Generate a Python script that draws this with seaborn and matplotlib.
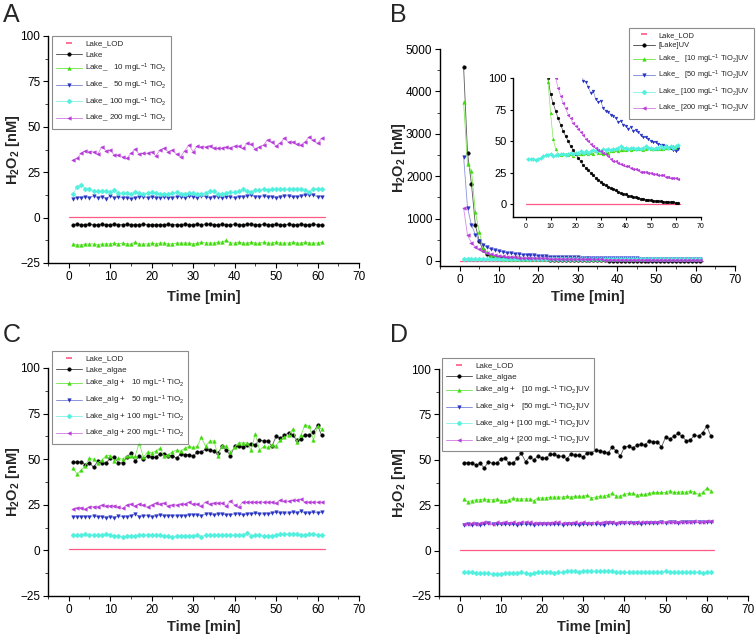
"""H2O2 in lake water with TiO2, dark / UV, with and without algae (4 panels)."""
import matplotlib
matplotlib.use("Agg")
import matplotlib.pyplot as plt
from matplotlib.lines import Line2D
from matplotlib.ticker import AutoMinorLocator, MultipleLocator
import seaborn as sns

sns.set_style("ticks")
plt.rcParams.update({
    "font.family": ["Liberation Sans", "DejaVu Sans"],
    "mathtext.fontset": "custom",
    "mathtext.rm": "Liberation Sans",
    "mathtext.it": "Liberation Sans:italic",
    "mathtext.bf": "Liberation Sans:bold",
    "mathtext.default": "regular",
})

TIME = list(range(1, 62))
LOD_TIME = [0, 61.8]
LOD = [0.5, 0.5]

# ---- panel A: lake water, dark
A_LAKE = [-3.8, -3.7, -3.8, -3.8, -3.7, -3.8, -3.8, -3.7, -3.8, -3.8, -3.7, -3.8, -3.8, -3.7, -3.8,
          -3.9, -3.8, -3.7, -3.8, -3.8, -3.9, -3.8, -3.8, -3.7, -3.8, -3.8, -3.8, -3.7, -3.8, -3.8,
          -3.7, -3.8, -3.6, -3.7, -3.8, -3.8, -3.7, -3.8, -3.8, -3.7, -3.8, -3.8, -3.7, -3.6, -3.8,
          -3.8, -3.7, -3.8, -3.8, -3.7, -3.8, -3.8, -3.7, -3.8, -3.8, -3.7, -3.8, -3.8, -3.7, -3.8, -3.8]
A_10 = [-14.5, -15, -15, -14.5, -14.5, -14.5, -15, -14.5, -14.5, -14.5, -14, -14.5, -14, -14.5, -14.5,
        -13.5, -14.5, -14.5, -14.5, -14, -14.5, -14, -14, -14.5, -14.5, -14, -14, -14, -14, -14.5,
        -14, -13.5, -14, -14, -14, -13.5, -13.5, -12.5, -14, -14, -13.5, -14, -14, -13.5, -14,
        -14, -13.5, -14, -14, -13.5, -14, -14, -14, -13.5, -14, -14, -13.5, -14, -14, -14, -13.5]
A_50 = [10.5, 11, 11, 11.5, 11, 12, 11, 11.5, 10.5, 12, 11, 11.5, 11, 11, 10.5,
        11, 11.5, 11.5, 11, 11.5, 11, 11, 11.5, 11, 11, 11.5, 11.5, 11, 12, 11.5,
        11, 12, 11.5, 11, 11.5, 11.5, 11, 11.5, 11.5, 11, 11.5, 11.5, 12, 12.5, 11.5,
        11.5, 12, 11.5, 11.5, 11, 11.5, 12, 12, 11.5, 11.5, 12, 12.5, 12.5, 12.5, 11.5, 11.5]
A_100 = [13, 17, 18, 16, 16, 14.5, 14.5, 14.5, 14.5, 14, 15, 13.5, 13.5, 13.5, 13,
         14, 13.5, 13, 13.5, 14, 13.5, 13, 13, 13, 13.5, 14, 13, 13, 13.5, 13.5,
         13, 13, 13.5, 14.5, 14.5, 13, 13, 13.5, 14, 14, 14.5, 15.5, 14.5, 14, 15,
         15, 16, 15, 15.5, 15.5, 16, 15.5, 15.5, 16, 16, 15.5, 15, 14, 16, 16, 16]
A_200 = [31.7, 32.6, 35.4, 36.9, 36.3, 36.3, 35, 39, 36.9, 37.2, 34.5, 34.5, 33.6, 32.6, 35.4,
         37.6, 35, 35.4, 35.4, 36.3, 34, 37.2, 38.1, 36.3, 37.2, 35, 33.6, 36.9, 40, 36.3,
         39.4, 39, 39, 39.6, 38.5, 38.1, 38.1, 39, 38.5, 39.4, 39.4, 38.1, 40.9, 40.5, 37.6,
         39, 40, 43, 41.7, 39.4, 41.3, 43.6, 41.7, 41.7, 40.5, 40, 41.7, 44.5, 42.6, 40.9, 43.6]

# ---- panel B: lake water, UV
B_LAKE = [4580, 2550, 1810, 840, 460, 250, 160, 120, 100, 87, 80, 74, 68, 63, 58,
          54, 50, 46, 43, 40, 37, 34, 31, 29, 27, 25, 23, 21, 19.5, 18,
          16.5, 15, 14, 13, 12, 11, 10, 9, 8.5, 8, 7, 6.5, 6, 5.5, 5,
          4.5, 4, 3.8, 3.5, 3.2, 3, 2.8, 2.5, 2.3, 2.1, 2, 1.8, 1.6, 1.5, 1.3, 1.2]
B_10 = [3750, 2280, 2120, 1150, 680, 300, 200, 130, 97, 72, 52, 44, 40, 39, 40,
        40, 39, 40, 38, 41, 40, 40, 40, 41, 40, 41, 40, 42, 41, 41,
        40, 41, 41, 42, 42, 43, 42, 43, 43, 43, 44, 43, 44, 44, 44,
        44, 43, 44, 45, 44, 44, 44, 44, 44, 44, 45, 45, 45, 46, 45, 46]
B_50 = [2460, 1250, 850, 620, 480, 380, 320, 280, 250, 230, 210, 195, 180, 170, 160,
        150, 145, 138, 130, 122, 115, 106, 98, 97, 93, 88, 90, 83, 81, 82,
        76, 74, 73, 71, 70, 68, 65, 66, 63, 62, 60, 61, 58, 59, 57,
        55, 53, 53, 52, 50, 49, 49, 48, 47, 47, 46, 45, 45, 43, 42, 44]
B_100 = [36, 36, 36, 35, 36, 37, 38, 39, 39, 40, 38, 39, 39, 40, 40,
         39, 40, 41, 40, 41, 41, 42, 41, 42, 41, 42, 43, 42, 43, 42,
         44, 43, 44, 43, 44, 44, 45, 46, 45, 45, 44, 45, 45, 44, 45,
         44, 45, 46, 45, 45, 44, 45, 45, 46, 45, 46, 45, 46, 45, 46, 47]
B_200 = [1250, 600, 430, 330, 270, 230, 190, 160, 140, 125, 110, 100, 92, 86, 80,
         76, 71, 68, 64, 62, 60, 57, 55, 52, 50, 48, 46, 45, 43, 42,
         41, 40, 38, 36, 34, 34, 33, 32, 31, 30, 30, 29, 28, 28, 27,
         26, 26, 26, 25, 25, 24, 24, 23, 23, 23, 22, 22, 21, 21, 21, 20]

# ---- panel C: lake water + algae, dark
ALGAE = [48.5, 48.5, 48.5, 47, 48, 45.5, 49, 48, 48, 50.5, 51, 48, 48, 51, 53.5,
         49, 51.5, 50, 52, 51, 51, 53, 53, 52, 52, 50.5, 53, 52.5, 52.5, 51.5,
         54, 54, 55.5, 55, 54.5, 53.5, 57, 55, 52, 57, 57.5, 56.5, 58, 58.5, 58,
         60.5, 60, 60, 57, 62.5, 61.5, 63, 64.5, 63, 60.5, 61, 63.5, 63, 65, 68.5, 63]
C_10 = [45, 42, 44, 46.5, 50.5, 50, 48, 49.5, 52, 52, 49, 50.5, 50, 51.5, 52,
        51.5, 59, 51, 54, 53.5, 54.5, 56, 51.5, 52.5, 54, 55, 54.5, 56, 57, 56.5,
        57, 62, 57, 60, 60, 52, 57.5, 57, 54, 56.5, 59, 59, 59, 55, 64,
        55, 57, 56.5, 58, 57.5, 60.5, 62, 63, 66.5, 59.5, 63, 69, 68, 60.5, 68, 66.5]
C_50 = [18.5, 18.5, 18.5, 18.5, 18.5, 19, 18.5, 18.5, 18, 18.5, 18, 19, 18.5, 18.5, 19,
        20, 18.5, 19, 19, 18.5, 19, 19.5, 19, 19, 19, 19, 19, 19, 19.5, 19.5,
        19.5, 19, 20, 20, 19.5, 20, 20, 19.5, 19.5, 20, 20, 19.5, 20, 20, 20.5,
        20, 20, 20, 20.5, 21, 20.5, 20.5, 20.5, 21, 20.5, 21.5, 20.5, 20.5, 21, 20.5, 21]
C_100 = [8.5, 8.5, 8.5, 9, 8.5, 8.5, 8.5, 8.5, 9, 8.5, 8, 8, 7.5, 8, 8,
         8, 8.5, 8.5, 8.5, 8.5, 8.5, 8.5, 8, 8, 7.5, 8, 8, 8, 8, 8,
         8.5, 7.5, 8.5, 8.5, 8.5, 8.5, 8.5, 8.5, 8.5, 8.5, 8.5, 8.5, 9.5, 8, 8.5,
         8.5, 8, 8, 8, 8.5, 9, 9, 9, 9, 9, 8.5, 8.5, 9, 9, 8.5, 8.5]
C_200 = [22.5, 23.5, 23.5, 22.5, 24, 24, 24, 25, 24.5, 24.5, 24.5, 24, 23, 25, 25.5,
         24.5, 25.5, 25, 24, 25, 26, 25.5, 26, 24.5, 25, 25, 25.5, 25.5, 26.5, 25.5,
         25.5, 24.5, 26.5, 25.5, 26, 26, 26, 24.5, 27, 25, 24, 26.5, 26.5, 26.5, 26.5,
         26.5, 26.5, 26.5, 26.5, 26, 27.5, 27, 27, 27.5, 27.5, 28, 26.5, 26.5, 26.5, 26.5, 26.5]

# ---- panel D: lake water + algae, UV
D_10 = [28.5, 27, 27.5, 28, 28, 28.5, 28, 28, 28.5, 27.5, 27.5, 28, 29, 28.5, 28.5,
        28.5, 28.5, 27.5, 29, 29, 29, 29.5, 29.5, 29.5, 29.5, 30, 29.5, 30, 30, 30,
        30.5, 29, 29.5, 30, 30, 30.5, 31.5, 30, 30, 31, 31.5, 31.5, 30.5, 31, 31,
        31.5, 32, 32, 32, 32, 33, 32, 32, 32.5, 32, 33, 32, 31, 32, 34.5, 33]
D_50 = [14, 14.5, 14, 14.5, 14, 14.5, 15, 14.5, 14.5, 14.5, 14.5, 14.5, 14.5, 14, 14.5,
        14.5, 14.5, 14, 14.5, 14.5, 14.5, 14.5, 14.5, 14.5, 14, 14.5, 14.5, 14.5, 14, 14.5,
        14.5, 14.5, 14.5, 14.5, 14, 15, 15, 14.5, 15, 15, 15, 15, 15, 14.5, 15,
        15, 15, 15, 15.5, 15, 15.5, 15.5, 15, 15.5, 15.5, 15.5, 15.5, 15.5, 15.5, 15.5, 15.5]
D_100 = [-12, -12, -12, -12.5, -12.5, -12.5, -12.5, -13, -13, -13, -12.5, -12.5, -12.5, -12.5, -12,
         -12.5, -13, -12.5, -12, -12, -12, -12, -12.5, -12, -12, -11.5, -11.5, -11.5, -12, -11,
         -11.5, -11.5, -11.5, -11.5, -11.5, -11, -11.5, -12, -12, -12, -12, -12, -12, -12, -12,
         -12, -12, -12, -12, -11.5, -12, -12, -12, -12, -12, -12, -12, -12, -12.5, -12, -12]
D_200 = [14.5, 14.5, 15, 14.5, 15, 15.5, 15, 14.5, 15.5, 15, 16, 15, 15.5, 15, 15.5,
         16, 15.5, 15, 15, 15, 15, 15, 15.5, 15.5, 15, 15, 15, 15.5, 15, 15.5,
         15, 15, 15.5, 15, 16, 15.5, 15.5, 15, 15.5, 15.5, 15.5, 15, 15.5, 15.5, 16,
         15.5, 15.5, 15.5, 16, 16, 16, 16, 15.5, 16, 15.5, 16, 16.5, 16, 16, 16.5, 16.5]

TIO2 = "mgL$^{-1}$ TiO$_2$"
LABELS_A = ["Lake_LOD", "Lake", f"Lake_   10 {TIO2}", f"Lake_   50 {TIO2}",
            f"Lake_ 100 {TIO2}", f"Lake_ 200 {TIO2}"]
LABELS_B = ["Lake_LOD", "[Lake]UV", f"Lake_   [10 {TIO2}]UV", f"Lake_   [50 {TIO2}]UV",
            f"Lake_ [100 {TIO2}]UV", f"Lake_ [200 {TIO2}]UV"]
LABELS_C = ["Lake_LOD", "Lake_algae", f"Lake_alg +   10 {TIO2}", f"Lake_alg +   50 {TIO2}",
            f"Lake_alg + 100 {TIO2}", f"Lake_alg + 200 {TIO2}"]
LABELS_D = ["Lake_LOD", "Lake_algae", f"Lake_alg +   [10 {TIO2}]UV", f"Lake_alg +   [50 {TIO2}]UV",
            f"Lake_alg + [100 {TIO2}]UV", f"Lake_alg + [200 {TIO2}]UV"]

LOD_COLOR = "#ff5a86"
STYLES = [
    {"marker": "o", "mark": "#000000", "line": "#5a5a5a"},
    {"marker": "^", "mark": "#3fdc0c", "line": "#7fe858"},
    {"marker": "v", "mark": "#2632c4", "line": "#8a92dc"},
    {"marker": "D", "mark": "#4ff0de", "line": "#8ff4ea"},
    {"marker": "<", "mark": "#b63ad8", "line": "#d88be8"},
]

W, H = 756, 639
fig = plt.figure(figsize=(W / 100, H / 100), dpi=100)


def px_axes(left, right, top, bottom):
    return fig.add_axes([left / W, 1 - bottom / H, (right - left) / W, (bottom - top) / H])


def draw(ax, series, ms=2.6, lw=0.6):
    sns.lineplot(x=LOD_TIME, y=LOD, ax=ax, color=LOD_COLOR, linewidth=0.9, legend=False)
    for y, st in zip(series, STYLES):
        sns.lineplot(x=TIME, y=y, ax=ax, color=st["line"], linewidth=lw,
                     marker=st["marker"], markersize=ms, markerfacecolor=st["mark"],
                     markeredgecolor=st["mark"], markeredgewidth=0.3, legend=False)


def style_axes(ax, ylim, ystep, fs=8.5, tick_len=3.5):
    ax.set_xlim(-5, 70)
    ax.set_ylim(*ylim)
    ax.xaxis.set_major_locator(MultipleLocator(10))
    ax.yaxis.set_major_locator(MultipleLocator(ystep))
    ax.xaxis.set_minor_locator(AutoMinorLocator(2))
    ax.yaxis.set_minor_locator(AutoMinorLocator(2))
    for side in ("top", "right"):
        ax.spines[side].set_visible(False)
    for side in ("left", "bottom"):
        ax.spines[side].set_linewidth(1.0)
        ax.spines[side].set_color("black")
    ax.tick_params(which="major", direction="out", length=tick_len, width=0.8,
                   labelsize=fs, colors="black", pad=2)
    ax.tick_params(which="minor", direction="out", length=tick_len * 0.55, width=0.6)
    ax.set_xlabel("")
    ax.set_ylabel("")


def labels(ax, ylab_x, xlab_y):
    ax.set_xlabel("Time [min]", fontsize=10.5, fontweight="bold")
    ax.set_ylabel("H$_2$O$_2$ [nM]", fontsize=10.5, fontweight="bold")
    ax.xaxis.set_label_coords(0.5, xlab_y)
    ax.yaxis.set_label_coords(ylab_x, 0.5)


def legend(texts, x, y, loc="upper left", fs=5.8, hl=3.2):
    handles = [Line2D([], [], color=LOD_COLOR, marker="_", linestyle="none",
                      markersize=4, markeredgewidth=1.2)]
    for st in STYLES:
        handles.append(Line2D([], [], color=st["line"], linewidth=0.7, marker=st["marker"],
                              markersize=2.6, markerfacecolor=st["mark"],
                              markeredgecolor=st["mark"], markeredgewidth=0.3))
    leg = fig.legend(handles, texts, loc=loc, bbox_to_anchor=(x / W, 1 - y / H),
                     bbox_transform=fig.transFigure, fontsize=fs, frameon=True,
                     fancybox=False, handlelength=hl, handletextpad=0.4,
                     labelspacing=0.42, borderpad=0.5, borderaxespad=0)
    leg.get_frame().set_edgecolor("#6f6f6f")
    leg.get_frame().set_linewidth(0.8)


# A
axA = px_axes(48, 359, 36, 263)
draw(axA, [A_LAKE, A_10, A_50, A_100, A_200])
style_axes(axA, (-25, 100), 25)
labels(axA, -0.084, -0.119)
legend(LABELS_A, 52, 36)

# B
axB = px_axes(440, 735, 49, 266)
draw(axB, [B_LAKE, B_10, B_50, B_100, B_200])
style_axes(axB, (-120, 5000), 1000)
labels(axB, -0.108, -0.11)

axI = px_axes(513, 701, 78, 217)
axI.set_facecolor("none")
draw(axI, [B_LAKE, B_10, B_50, B_100, B_200], ms=2.0, lw=0.5)
style_axes(axI, (-10, 100), 25, fs=6.5, tick_len=2.5)
axI.xaxis.set_minor_locator(AutoMinorLocator(1))
axI.yaxis.set_minor_locator(AutoMinorLocator(1))
axI.tick_params(labelsize=5, which="major")
axI.tick_params(axis="y", labelsize=8)
legend(LABELS_B, 754, 28, loc="upper right", fs=5.4, hl=3.0)

# C
axC = px_axes(48, 359, 368, 596)
draw(axC, [ALGAE, C_10, C_50, C_100, C_200])
style_axes(axC, (-25, 100), 25)
labels(axC, -0.084, -0.105)
legend(LABELS_C, 52, 351)

# D
axD = px_axes(439, 748, 369, 596)
draw(axD, [ALGAE, D_10, D_50, D_100, D_200])
style_axes(axD, (-25, 100), 25)
labels(axD, -0.10, -0.105)
legend(LABELS_D, 442, 358)

for letter, (x, y) in {"A": (3, 3), "B": (390, 3), "C": (3, 323), "D": (390, 323)}.items():
    fig.text(x / W, 1 - y / H, letter, fontsize=18, va="top", ha="left")

fig.savefig("out.png", dpi=100)
